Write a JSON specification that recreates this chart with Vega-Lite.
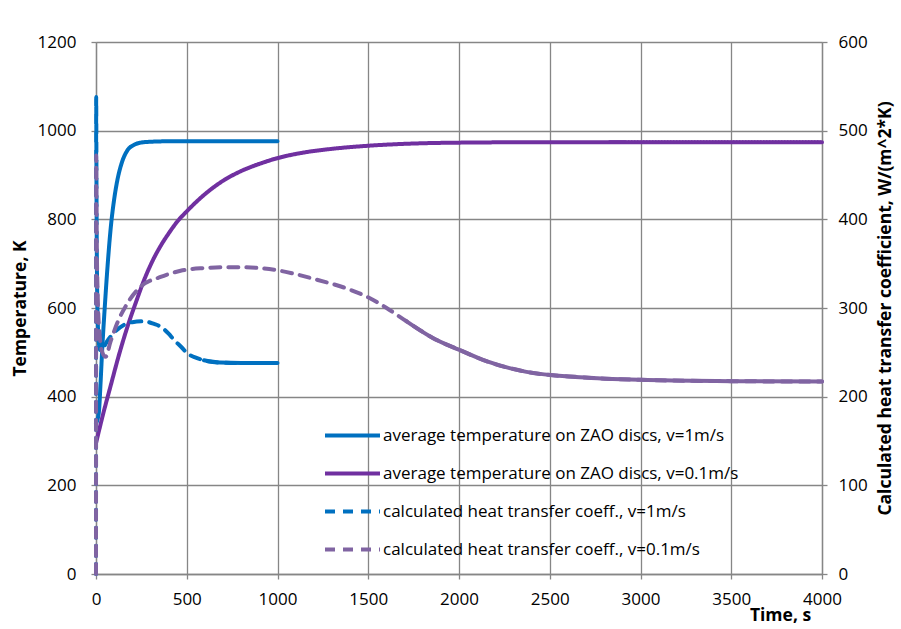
{
 "$schema": "https://vega.github.io/schema/vega-lite/v6.json",
 "width": 726, "height": 532,
 "autosize": {"type": "none"},
 "padding": {"left": 96, "top": 42, "right": 79, "bottom": 55},
 "background": "white",
 "config": {
  "view": {"stroke": null},
  "font": "Open Sans",
  "axis": {"domainColor": "#868686", "tickColor": "#868686", "gridColor": "#868686", "gridWidth": 1.3, "domainWidth": 1.3, "tickWidth": 1.3, "tickSize": 5,
   "labelColor": "#000000", "labelFontSize": 17, "labelFont": "Open Sans", "titleFont": "Open Sans", "titleFontSize": 17.5, "titleFontWeight": "bold", "titleColor": "#000000", "format": "d"}
 },
 "datasets": {
  "temperature": [
   {"series": "average temperature on ZAO discs, v=1m/s", "t": 0, "value": 340},
   {"series": "average temperature on ZAO discs, v=1m/s", "t": 8, "value": 348},
   {"series": "average temperature on ZAO discs, v=1m/s", "t": 17, "value": 370},
   {"series": "average temperature on ZAO discs, v=1m/s", "t": 25, "value": 430},
   {"series": "average temperature on ZAO discs, v=1m/s", "t": 35, "value": 513},
   {"series": "average temperature on ZAO discs, v=1m/s", "t": 48, "value": 600},
   {"series": "average temperature on ZAO discs, v=1m/s", "t": 62, "value": 685},
   {"series": "average temperature on ZAO discs, v=1m/s", "t": 81, "value": 780},
   {"series": "average temperature on ZAO discs, v=1m/s", "t": 100, "value": 845},
   {"series": "average temperature on ZAO discs, v=1m/s", "t": 117, "value": 887},
   {"series": "average temperature on ZAO discs, v=1m/s", "t": 140, "value": 925},
   {"series": "average temperature on ZAO discs, v=1m/s", "t": 172, "value": 955},
   {"series": "average temperature on ZAO discs, v=1m/s", "t": 210, "value": 968},
   {"series": "average temperature on ZAO discs, v=1m/s", "t": 246, "value": 973},
   {"series": "average temperature on ZAO discs, v=1m/s", "t": 300, "value": 975},
   {"series": "average temperature on ZAO discs, v=1m/s", "t": 400, "value": 976},
   {"series": "average temperature on ZAO discs, v=1m/s", "t": 600, "value": 976},
   {"series": "average temperature on ZAO discs, v=1m/s", "t": 800, "value": 976},
   {"series": "average temperature on ZAO discs, v=1m/s", "t": 1000, "value": 976},
   {"series": "average temperature on ZAO discs, v=0.1m/s", "t": 0, "value": 295},
   {"series": "average temperature on ZAO discs, v=0.1m/s", "t": 40, "value": 362},
   {"series": "average temperature on ZAO discs, v=0.1m/s", "t": 81, "value": 425},
   {"series": "average temperature on ZAO discs, v=0.1m/s", "t": 125, "value": 492},
   {"series": "average temperature on ZAO discs, v=0.1m/s", "t": 172, "value": 556},
   {"series": "average temperature on ZAO discs, v=0.1m/s", "t": 220, "value": 613},
   {"series": "average temperature on ZAO discs, v=0.1m/s", "t": 264, "value": 662},
   {"series": "average temperature on ZAO discs, v=0.1m/s", "t": 310, "value": 705},
   {"series": "average temperature on ZAO discs, v=0.1m/s", "t": 356, "value": 740},
   {"series": "average temperature on ZAO discs, v=0.1m/s", "t": 400, "value": 768},
   {"series": "average temperature on ZAO discs, v=0.1m/s", "t": 448, "value": 795},
   {"series": "average temperature on ZAO discs, v=0.1m/s", "t": 500, "value": 818},
   {"series": "average temperature on ZAO discs, v=0.1m/s", "t": 595, "value": 855},
   {"series": "average temperature on ZAO discs, v=0.1m/s", "t": 700, "value": 887},
   {"series": "average temperature on ZAO discs, v=0.1m/s", "t": 800, "value": 909},
   {"series": "average temperature on ZAO discs, v=0.1m/s", "t": 900, "value": 925},
   {"series": "average temperature on ZAO discs, v=0.1m/s", "t": 1000, "value": 938},
   {"series": "average temperature on ZAO discs, v=0.1m/s", "t": 1150, "value": 951},
   {"series": "average temperature on ZAO discs, v=0.1m/s", "t": 1300, "value": 959},
   {"series": "average temperature on ZAO discs, v=0.1m/s", "t": 1500, "value": 966},
   {"series": "average temperature on ZAO discs, v=0.1m/s", "t": 1750, "value": 971},
   {"series": "average temperature on ZAO discs, v=0.1m/s", "t": 2000, "value": 973},
   {"series": "average temperature on ZAO discs, v=0.1m/s", "t": 2500, "value": 974},
   {"series": "average temperature on ZAO discs, v=0.1m/s", "t": 3000, "value": 974},
   {"series": "average temperature on ZAO discs, v=0.1m/s", "t": 3500, "value": 974},
   {"series": "average temperature on ZAO discs, v=0.1m/s", "t": 4000, "value": 974}
  ],
  "coefficient": [
   {"series": "calculated heat transfer coeff., v=1m/s", "t": 0, "value": 0},
   {"series": "calculated heat transfer coeff., v=1m/s", "t": 1, "value": 538},
   {"series": "calculated heat transfer coeff., v=1m/s", "t": 3, "value": 420},
   {"series": "calculated heat transfer coeff., v=1m/s", "t": 8, "value": 300},
   {"series": "calculated heat transfer coeff., v=1m/s", "t": 15, "value": 262},
   {"series": "calculated heat transfer coeff., v=1m/s", "t": 25, "value": 252},
   {"series": "calculated heat transfer coeff., v=1m/s", "t": 40, "value": 255},
   {"series": "calculated heat transfer coeff., v=1m/s", "t": 60, "value": 262},
   {"series": "calculated heat transfer coeff., v=1m/s", "t": 99, "value": 272},
   {"series": "calculated heat transfer coeff., v=1m/s", "t": 154, "value": 281},
   {"series": "calculated heat transfer coeff., v=1m/s", "t": 200, "value": 284},
   {"series": "calculated heat transfer coeff., v=1m/s", "t": 264, "value": 285},
   {"series": "calculated heat transfer coeff., v=1m/s", "t": 320, "value": 282},
   {"series": "calculated heat transfer coeff., v=1m/s", "t": 356, "value": 279},
   {"series": "calculated heat transfer coeff., v=1m/s", "t": 400, "value": 271},
   {"series": "calculated heat transfer coeff., v=1m/s", "t": 430, "value": 264},
   {"series": "calculated heat transfer coeff., v=1m/s", "t": 470, "value": 256},
   {"series": "calculated heat transfer coeff., v=1m/s", "t": 503, "value": 249},
   {"series": "calculated heat transfer coeff., v=1m/s", "t": 550, "value": 244},
   {"series": "calculated heat transfer coeff., v=1m/s", "t": 595, "value": 241},
   {"series": "calculated heat transfer coeff., v=1m/s", "t": 683, "value": 238.5},
   {"series": "calculated heat transfer coeff., v=1m/s", "t": 800, "value": 238},
   {"series": "calculated heat transfer coeff., v=1m/s", "t": 1000, "value": 238},
   {"series": "calculated heat transfer coeff., v=0.1m/s", "t": 0, "value": 0},
   {"series": "calculated heat transfer coeff., v=0.1m/s", "t": 1, "value": 472},
   {"series": "calculated heat transfer coeff., v=0.1m/s", "t": 4, "value": 380},
   {"series": "calculated heat transfer coeff., v=0.1m/s", "t": 10, "value": 310},
   {"series": "calculated heat transfer coeff., v=0.1m/s", "t": 20, "value": 270},
   {"series": "calculated heat transfer coeff., v=0.1m/s", "t": 35, "value": 250},
   {"series": "calculated heat transfer coeff., v=0.1m/s", "t": 53, "value": 245},
   {"series": "calculated heat transfer coeff., v=0.1m/s", "t": 80, "value": 262},
   {"series": "calculated heat transfer coeff., v=0.1m/s", "t": 117, "value": 283},
   {"series": "calculated heat transfer coeff., v=0.1m/s", "t": 172, "value": 305},
   {"series": "calculated heat transfer coeff., v=0.1m/s", "t": 246, "value": 324},
   {"series": "calculated heat transfer coeff., v=0.1m/s", "t": 356, "value": 335},
   {"series": "calculated heat transfer coeff., v=0.1m/s", "t": 466, "value": 342},
   {"series": "calculated heat transfer coeff., v=0.1m/s", "t": 595, "value": 345},
   {"series": "calculated heat transfer coeff., v=0.1m/s", "t": 700, "value": 346},
   {"series": "calculated heat transfer coeff., v=0.1m/s", "t": 800, "value": 346},
   {"series": "calculated heat transfer coeff., v=0.1m/s", "t": 900, "value": 345},
   {"series": "calculated heat transfer coeff., v=0.1m/s", "t": 1014, "value": 342},
   {"series": "calculated heat transfer coeff., v=0.1m/s", "t": 1197, "value": 333},
   {"series": "calculated heat transfer coeff., v=0.1m/s", "t": 1408, "value": 320},
   {"series": "calculated heat transfer coeff., v=0.1m/s", "t": 1490, "value": 313},
   {"series": "calculated heat transfer coeff., v=0.1m/s", "t": 1601, "value": 300},
   {"series": "calculated heat transfer coeff., v=0.1m/s", "t": 1711, "value": 285},
   {"series": "calculated heat transfer coeff., v=0.1m/s", "t": 1858, "value": 266},
   {"series": "calculated heat transfer coeff., v=0.1m/s", "t": 1999, "value": 253},
   {"series": "calculated heat transfer coeff., v=0.1m/s", "t": 2151, "value": 240},
   {"series": "calculated heat transfer coeff., v=0.1m/s", "t": 2372, "value": 228},
   {"series": "calculated heat transfer coeff., v=0.1m/s", "t": 2666, "value": 222},
   {"series": "calculated heat transfer coeff., v=0.1m/s", "t": 3000, "value": 219},
   {"series": "calculated heat transfer coeff., v=0.1m/s", "t": 3500, "value": 217.5},
   {"series": "calculated heat transfer coeff., v=0.1m/s", "t": 4000, "value": 217}
  ]
 },
 "layer": [
  {
   "data": {"name": "temperature"},
   "mark": {"type": "line", "strokeWidth": 4, "interpolate": "monotone", "strokeCap": "round"},
   "encoding": {
    "x": {"field": "t", "type": "quantitative", "scale": {"domain": [0, 4000], "nice": false},
     "axis": {"values": [0, 500, 1000, 1500, 2000, 2500, 3000, 3500, 4000], "title": "Time, s", "titleX": 684, "titleY": 41, "titleBaseline": "middle", "titleAlign": "center", "labelPadding": 12, "labelFlush": false, "labelOverlap": false, "grid": true}},
    "y": {"field": "value", "type": "quantitative", "scale": {"domain": [0, 1200], "nice": false},
     "axis": {"orient": "left", "values": [0, 200, 400, 600, 800, 1000, 1200], "title": "Temperature, K", "titleX": -76, "titleY": 266, "titleAngle": -90, "titleAlign": "center", "titleBaseline": "middle", "labelPadding": 15, "grid": true}},
    "color": {"field": "series", "type": "nominal",
     "scale": {"domain": ["average temperature on ZAO discs, v=1m/s", "average temperature on ZAO discs, v=0.1m/s", "calculated heat transfer coeff., v=1m/s", "calculated heat transfer coeff., v=0.1m/s"], "range": ["#0070C0", "#7030A0", "#0070C0", "#8064A2"]},
     "legend": {"orient": "none", "legendX": 227, "legendY": 364, "title": null, "symbolType": "stroke", "symbolSize": 3025, "symbolStrokeWidth": 4, "labelFontSize": 17, "labelFont": "Open Sans", "labelColor": "#000000", "labelOffset": 1, "rowPadding": -19.3, "padding": 0, "labelLimit": 600}},
    "strokeDash": {"field": "series", "type": "nominal",
     "scale": {"domain": ["average temperature on ZAO discs, v=1m/s", "average temperature on ZAO discs, v=0.1m/s", "calculated heat transfer coeff., v=1m/s", "calculated heat transfer coeff., v=0.1m/s"], "range": [[1, 0], [1, 0], [10, 8], [10, 8]]},
     "legend": {"orient": "none", "legendX": 227, "legendY": 364, "title": null, "symbolType": "stroke", "symbolSize": 3025, "symbolStrokeWidth": 4, "labelFontSize": 17, "labelFont": "Open Sans", "labelColor": "#000000", "labelOffset": 1, "rowPadding": -19.3, "padding": 0, "labelLimit": 600}}
   }
  },
  {
   "data": {"name": "coefficient"},
   "mark": {"type": "line", "strokeWidth": 4, "interpolate": "monotone", "strokeCap": "round"},
   "encoding": {
    "x": {"field": "t", "type": "quantitative", "scale": {"domain": [0, 4000], "nice": false}},
    "y": {"field": "value", "type": "quantitative", "scale": {"domain": [0, 600], "nice": false},
     "axis": {"orient": "right", "values": [0, 100, 200, 300, 400, 500, 600], "title": "Calculated heat transfer coefficient, W/(m^2*K)", "titleX": 63, "titleY": 266, "titleAngle": -90, "titleAlign": "center", "titleBaseline": "middle", "labelPadding": 11, "grid": false}},
    "color": {"field": "series", "type": "nominal"},
    "strokeDash": {"field": "series", "type": "nominal"}
   }
  },
  {
   "data": {"name": "coefficient"},
   "transform": [{"filter": "datum.series == 'calculated heat transfer coeff., v=1m/s' && datum.t >= 580"}],
   "mark": {"type": "line", "strokeWidth": 4, "interpolate": "monotone", "strokeCap": "round", "color": "#0070C0"},
   "encoding": {
    "x": {"field": "t", "type": "quantitative"},
    "y": {"field": "value", "type": "quantitative", "scale": {"domain": [0, 600], "nice": false}, "axis": null}
   }
  },
  {
   "data": {"name": "coefficient"},
   "transform": [{"filter": "datum.series == 'calculated heat transfer coeff., v=0.1m/s' && datum.t >= 1700"}],
   "mark": {"type": "line", "strokeWidth": 4, "interpolate": "monotone", "strokeCap": "round", "color": "#8064A2"},
   "encoding": {
    "x": {"field": "t", "type": "quantitative"},
    "y": {"field": "value", "type": "quantitative", "scale": {"domain": [0, 600], "nice": false}, "axis": null}
   }
  }
 ],
 "resolve": {"scale": {"y": "independent"}}
}
